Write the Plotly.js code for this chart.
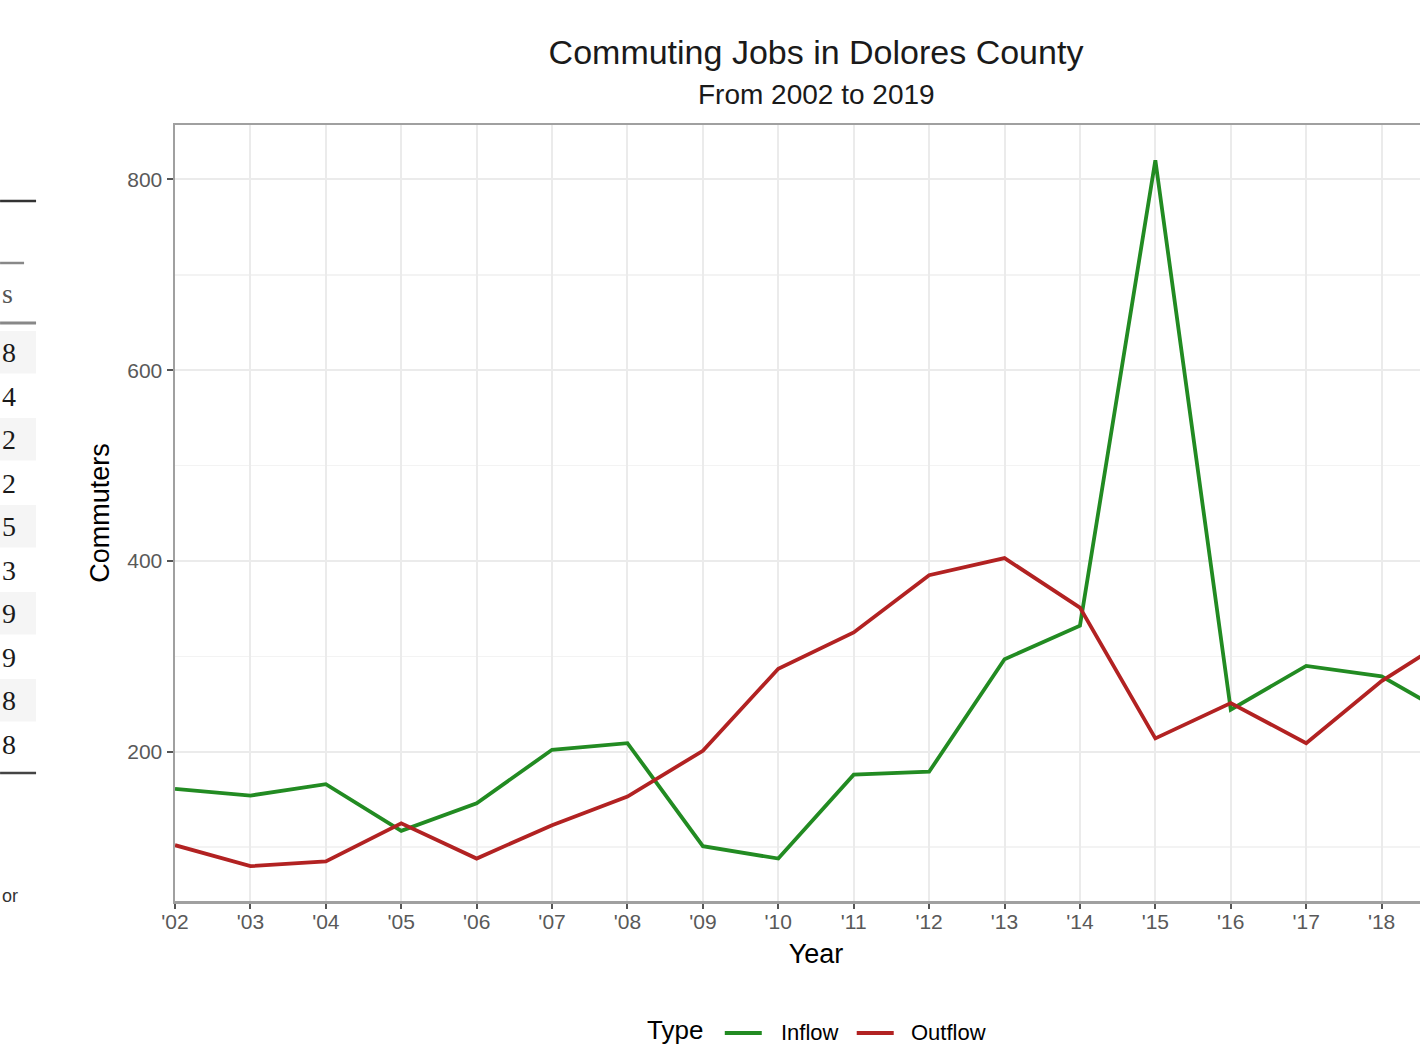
<!DOCTYPE html>
<html>
<head>
<meta charset="utf-8">
<script src="https://cdn.plot.ly/plotly-3.0.1.min.js"></script>
<style>
  html, body { margin: 0; padding: 0; background: #ffffff; overflow: hidden; }
  #chart { width: 1520px; height: 1046px; }
</style>
</head>
<body>
<div id="chart"></div>
<script>
// ---- data ----
const years = [2002, 2003, 2004, 2005, 2006, 2007, 2008, 2009, 2010, 2011, 2012, 2013, 2014, 2015, 2016, 2017, 2018, 2019];
const tickYears  = [2002, 2003, 2004, 2005, 2006, 2007, 2008, 2009, 2010, 2011, 2012, 2013, 2014, 2015, 2016, 2017, 2018];
const tickLabels = ["'02", "'03", "'04", "'05", "'06", "'07", "'08", "'09", "'10", "'11", "'12", "'13", "'14", "'15", "'16", "'17", "'18"];
const inflow  = [161, 154, 166, 117, 146, 202, 209, 101, 88, 176, 179, 297, 332, 820, 244, 290, 279, 234];
const outflow = [102, 80, 85, 125, 88, 123, 153, 201, 287, 325, 385, 403, 351, 214, 251, 209, 274, 324];
const seriesNames = ["Inflow", "Outflow"];
const seriesColors = ["#228B22", "#B22222"];
const legendTitle = "Type";
const yTicks = [200, 400, 600, 800];

// fragments of a neighbouring table visible at the left edge of the screenshot
const sideHeader = "s";
const sideDigits = ["8", "4", "2", "2", "5", "3", "9", "9", "8", "8"];
const sideFooter = "or";

// ---- layout helpers (pixel -> paper) ----
const W = 1520, H = 1046;
const M = { l: 175, r: 62.5, t: 125, b: 145, autoexpand: false };
const PW = W - M.l - M.r, PH = H - M.t - M.b;
const px = x => (x - M.l) / PW;
const py = y => (H - M.b - y) / PH;

const FONT = "Liberation Sans, Arial, sans-serif";
const LW = 3.8;

const traces = [inflow, outflow].map((vals, i) => ({
  x: years, y: vals, name: seriesNames[i], type: "scatter", mode: "lines",
  line: { color: seriesColors[i], width: LW }, showlegend: false
}));

const shapes = [];
const annotations = [];

// subtitle
annotations.push({
  text: "From 2002 to 2019", xref: "paper", yref: "paper",
  x: 0.5, y: py(95), xanchor: "center", yanchor: "middle", showarrow: false,
  font: { family: FONT, size: 28, color: "#1a1a1a" }
});

// legend (ggplot-style, bottom centre)
const legY = 1030;
annotations.push({ text: legendTitle, xref: "paper", yref: "paper", x: px(645), y: py(legY),
  xanchor: "left", yanchor: "middle", showarrow: false,
  font: { family: FONT, size: 26, color: "#000" } });
const legSampleX = [725, 857];
const legTextX = [779, 909];
seriesNames.forEach((nm, i) => {
  shapes.push({ type: "line", xref: "paper", yref: "paper",
    x0: px(legSampleX[i]), x1: px(legSampleX[i] + 37), y0: py(legY + 3), y1: py(legY + 3),
    line: { color: seriesColors[i], width: LW } });
  annotations.push({ text: nm, xref: "paper", yref: "paper", x: px(legTextX[i]), y: py(legY + 2),
    xanchor: "left", yanchor: "middle", showarrow: false,
    font: { family: FONT, size: 22, color: "#000" } });
});

// side table fragments
const rowTop0 = 331, rowH = 43.5;
sideDigits.forEach((d, i) => {
  const top = rowTop0 + i * rowH;
  if (i % 2 === 0) {
    shapes.push({ type: "rect", xref: "paper", yref: "paper", layer: "below",
      x0: px(0), x1: px(36), y0: py(top), y1: py(top + rowH - 1),
      fillcolor: "#f5f5f5", line: { width: 0 } });
  }
  annotations.push({ text: d, xref: "paper", yref: "paper", x: px(0), y: py(top + rowH / 2),
    xanchor: "left", yanchor: "middle", showarrow: false,
    font: { family: "Liberation Serif, DejaVu Serif, serif", size: 28, color: "#1a1a1a" } });
});
annotations.push({ text: sideHeader, xref: "paper", yref: "paper", x: px(0), y: py(293),
  xanchor: "left", yanchor: "middle", showarrow: false,
  font: { family: "Liberation Serif, DejaVu Serif, serif", size: 28, color: "#555" } });
annotations.push({ text: sideFooter, xref: "paper", yref: "paper", x: px(0), y: py(896),
  xanchor: "left", yanchor: "middle", showarrow: false,
  font: { family: FONT, size: 18, color: "#333" } });
[[201, 36, "#333", 2.5], [263, 24, "#888", 2.5], [323, 36, "#888", 3], [773, 36, "#444", 2.5]].forEach(r => {
  shapes.push({ type: "line", xref: "paper", yref: "paper",
    x0: px(0), x1: px(r[1]), y0: py(r[0]), y1: py(r[0]),
    line: { color: r[2], width: r[3] } });
});

const layout = {
  width: W, height: H,
  margin: M,
  paper_bgcolor: "#ffffff", plot_bgcolor: "#ffffff",
  font: { family: FONT, color: "#000" },
  title: {
    text: "Commuting Jobs in Dolores County",
    font: { family: FONT, size: 34, color: "#1a1a1a" },
    x: 0.5, xref: "paper", xanchor: "center",
    y: 1 - 52 / H, yref: "container", yanchor: "middle"
  },
  xaxis: {
    range: [2002, 2019],
    tickmode: "array", tickvals: tickYears, ticktext: tickLabels,
    showgrid: true, gridcolor: "#ebebeb", gridwidth: 2,
    zeroline: false,
    showline: true, mirror: true, linecolor: "#a0a0a0", linewidth: 2.5,
    ticks: "outside", ticklen: 5, tickwidth: 2, tickcolor: "#555",
    ticklabelstandoff: -5,
    tickfont: { family: FONT, size: 21, color: "#595959" },
    title: { text: "Year", font: { family: FONT, size: 27, color: "#000" }, standoff: 13 }
  },
  yaxis: {
    range: [43.5, 857],
    tickmode: "array", tickvals: yTicks,
    showgrid: true, gridcolor: "#ebebeb", gridwidth: 2,
    minor: { dtick: 100, tick0: 0, showgrid: true, gridcolor: "#f3f3f3", gridwidth: 1.5, ticks: "" },
    zeroline: false,
    showline: true, mirror: true, linecolor: "#a0a0a0", linewidth: 2.5,
    ticks: "outside", ticklen: 6, tickwidth: 2, tickcolor: "#555",
    tickfont: { family: FONT, size: 21, color: "#595959" },
    title: { text: "Commuters", font: { family: FONT, size: 27, color: "#000" }, standoff: 10 }
  },
  showlegend: false,
  shapes: shapes,
  annotations: annotations
};

Plotly.newPlot("chart", traces, layout, { displayModeBar: false, staticPlot: true });
</script>
</body>
</html>
